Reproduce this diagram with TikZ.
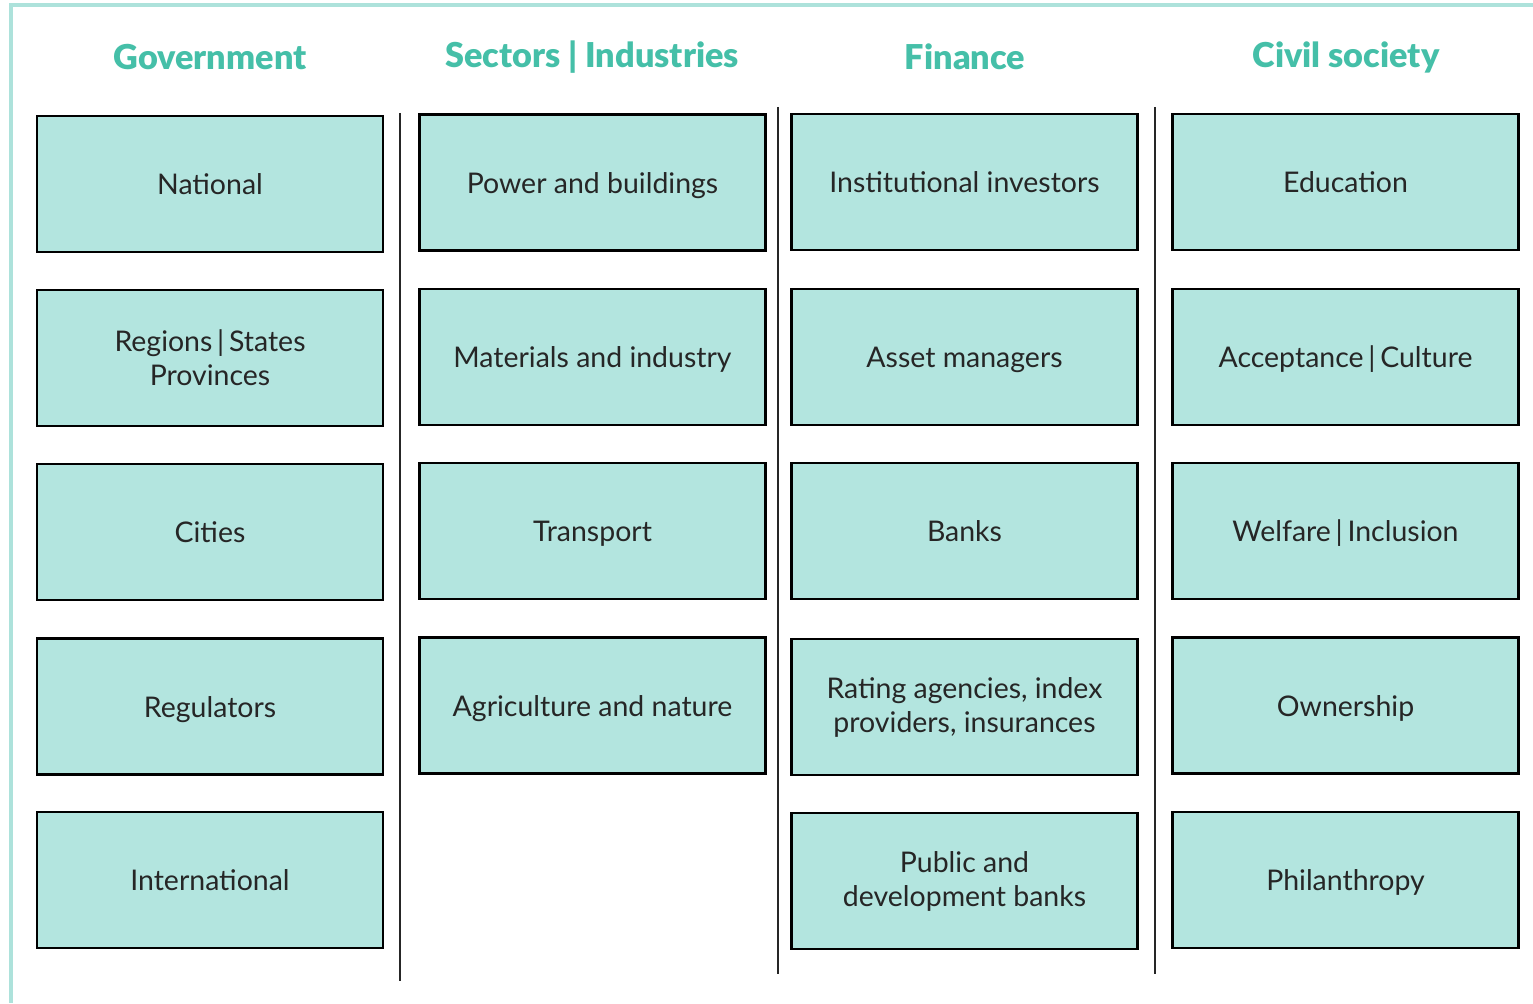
\documentclass[tikz,border=0pt]{standalone}
\usepackage{fontspec}
\setmainfont{Lato}
\newfontfamily\headfont{Lato Black}
\usetikzlibrary{positioning}

\definecolor{boxfill}{HTML}{B3E5DF}
\definecolor{heading}{HTML}{45BFA8}
\definecolor{framecol}{HTML}{ADE2DB}

\tikzset{
  actor/.style={draw=black, fill=boxfill, line width=1.4pt,
    minimum width=6.92cm, minimum height=2.72cm, align=center,
    font=\fontsize{16.2}{19.3}\selectfont, text=black!85},
  oneline/.style={actor, text height=12pt, text depth=0pt},
  colhead/.style={font=\headfont\fontsize{19.5}{22}\selectfont, text=heading},
  divider/.style={line width=1.1pt, black!85}
}

\begin{document}
\begin{tikzpicture}[x=0.02cm, y=-0.02cm]
\useasboundingbox (0,0) rectangle (1533,1003);

% outer frame, open at right and bottom
\draw[framecol, line width=1.8pt] (11,1003) -- (11,5) -- (1533,5);

% column headings
\node[colhead] (hgov) at (210,57) {Government};
\node[colhead] (hsec) at (592,57) {Sectors | Industries};
\node[colhead] (hfin) at (965,57) {Finance};
\node[colhead] (hciv) at (1346,57) {Civil society};

% government
\node[oneline] (national) at (210,184) {National};
\node[actor] (regions) at (210,358) {Regions\,|\,States\\Provinces};
\node[oneline] (cities) at (210,532) {Cities};
\node[oneline] (regulators) at (210,706.5) {Regulators};
\node[oneline] (international) at (210,880) {International};

% sectors
\node[oneline] (power) at (592.5,182.5) {Power and buildings};
\node[oneline] (materials) at (592.5,357) {Materials and industry};
\node[oneline] (transport) at (592.5,531) {Transport};
\node[oneline] (agriculture) at (592.5,705.5) {Agriculture and nature};

% finance
\node[oneline] (investors) at (964.5,182) {Institutional investors};
\node[oneline] (managers) at (964.5,357) {Asset managers};
\node[oneline] (banks) at (964.5,531) {Banks};
\node[actor] (rating) at (964.5,707) {Rating agencies, index\\providers, insurances};
\node[actor] (devbanks) at (964.5,881) {Public and\\development banks};

% civil society
\node[oneline] (education) at (1345.5,182) {Education};
\node[oneline] (culture) at (1345.5,357) {Acceptance\,|\,Culture};
\node[oneline] (welfare) at (1345.5,531) {Welfare\,|\,Inclusion};
\node[oneline] (ownership) at (1345.5,705.5) {Ownership};
\node[oneline] (philanthropy) at (1345.5,880) {Philanthropy};

% separators between columns
\coordinate (s1top) at (400,113);
\coordinate (s1bot) at (400,981);
\coordinate (s2top) at (778,107);
\coordinate (s2bot) at (778,974);
\coordinate (s3top) at (1155,107);
\coordinate (s3bot) at (1155,974);
\draw[divider] (s1top) -- (s1bot);
\draw[divider] (s2top) -- (s2bot);
\draw[divider] (s3top) -- (s3bot);
\end{tikzpicture}
\end{document}
